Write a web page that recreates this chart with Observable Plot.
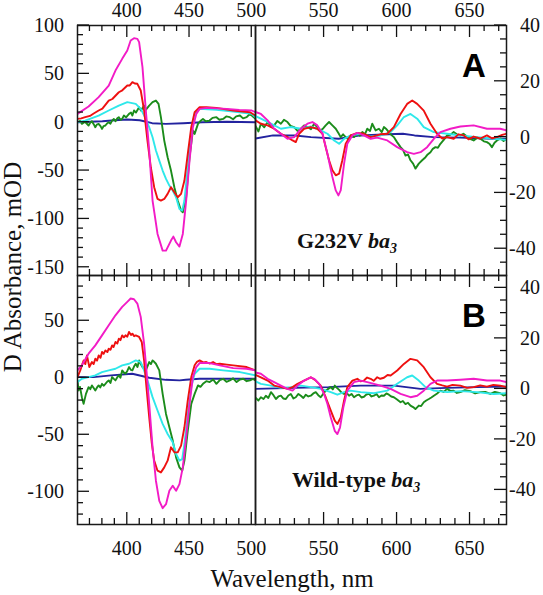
<!DOCTYPE html>
<html><head><meta charset="utf-8">
<script src="https://cdn.jsdelivr.net/npm/d3@7"></script>
<script src="https://cdn.jsdelivr.net/npm/@observablehq/plot@0.6"></script>
<style>
body{margin:0;background:#fff;}
#chart{position:relative;width:543px;height:595px;background:#fff;overflow:hidden;}
#chart svg{position:absolute;left:0;top:0;}
</style></head><body><div id="chart"></div>
<script>
// ---------- DATA: [wavelength nm, ΔA] ----------
// Panel A (G232V ba3), left part (left axis, mOD)
const A_L_magenta = [[360,8.6],[368.9,16.2],[377,25.9],[385.1,37.9],[390.5,53.4],[395.9,65.5],[400,74.1],[402.7,84.5],[405.4,86.9],[408.1,86.2],[409.5,82.8],[412.2,57],[414.9,12],[417.6,-29],[420.3,-81],[424.3,-115.5],[428.4,-132.8],[431.1,-132.8],[435.1,-122.4],[437,-118.3],[439.2,-124.1],[441.9,-128.6],[444.6,-115.5],[447.3,-81],[450,-39.7],[452.7,-5.2],[455.4,8.6],[458.1,13.8],[463.5,14.8],[480,13.8],[490,12.8],[500,12.1],[503,10.3]];
const A_L_red = [[360,3.4],[363,4],[366.2,5.2],[370,6.5],[373,9],[377,12.1],[380,14],[385.1,22.4],[388,24],[393.2,31],[396,33],[400,37.9],[402,38],[404.1,41.4],[406,40],[408.1,39.7],[410.8,32.8],[413.5,12.1],[416.2,-19],[418.9,-46.6],[421.6,-67.2],[424.3,-79.3],[427,-81],[429.7,-79.3],[432.4,-74.1],[435.1,-67.2],[437.8,-72.4],[440.5,-77.6],[443.2,-74.1],[445.9,-60.3],[448.6,-32.8],[451.4,-5.2],[454.1,10.3],[458.1,15.5],[463.5,15.5],[471.6,14.8],[485.1,12.1],[498.6,10.3],[503,6.9]];
const A_L_cyan = [[360,0],[366.2,1.7],[377,6.9],[385.1,12.1],[393.2,17.2],[400,20.7],[406.8,19],[410.8,13.8],[414.9,3.4],[417.6,-5.2],[420.3,-15.5],[423,-29.3],[425.7,-39.7],[428.4,-50],[431.1,-58.6],[433.8,-65.5],[436.5,-70.7],[439.2,-77.6],[441.9,-89.7],[444.1,-91.4],[445.9,-81],[448.6,-46.6],[451.4,-8.6],[454.1,8.6],[458.1,13.8],[471.6,12.8],[485.1,11],[500,8.6],[503,5.2]];
const A_L_green = [[360,0],[362,1.5],[363.5,-1.7],[366,0.5],[368.9,-3.4],[370,-1],[371.6,1],[373,-2],[374.3,-5.2],[375.5,-2.5],[377,-1.7],[378.5,-4],[379.7,-6.9],[381,-4],[382.4,-3.4],[384,-1],[385.1,0],[386.5,-1.5],[387.8,1.7],[389.2,3.4],[390.5,1],[392,4],[393.2,5.2],[394.5,2.5],[395.9,3.4],[397.3,6.9],[399,5],[401.4,8.6],[403,10],[404.1,6.9],[405.4,12.1],[407,10],[409.5,15.5],[411,12],[413.5,17.2],[415,13],[417.6,17.2],[420.3,20.7],[423,22.4],[425.1,19],[427,5.2],[429.7,-19],[432.4,-36.2],[435.1,-50],[437.8,-67.2],[440.5,-81],[443.2,-91.4],[444.6,-93.1],[447.3,-77.6],[450,-36.2],[452.7,-8.6],[454.1,-12.1],[456.8,-1.7],[458.5,1],[460.8,3.4],[463,1],[466,1.7],[468.5,4.5],[471.6,5.2],[474,2.5],[477,3.4],[479.5,6],[482.4,5.2],[485,3],[487.5,6],[490.5,6.9],[493,4],[495.9,5.2],[498,8],[500,7],[503,3.4]];
const A_L_blue = [[360,0],[370,0.5],[380,1],[390,2],[400,2.8],[410,2],[420,-1],[431,-1.7],[445,-1],[460,0],[480,0.5],[503,0]];
// Panel A, right part (right axis, mOD)
const A_R_magenta = [[503,9],[506.7,8.3],[511.3,6],[515.8,3],[520.4,1.2],[524.9,-0.6],[529.5,0],[534.1,3],[538.6,4.8],[542,5.4],[545.4,4.2],[548.9,1.2],[552.3,-6],[555.7,-14.3],[558,-19.1],[559.8,-20.9],[561.4,-19.1],[563.7,-9.5],[565.9,-2.4],[569.4,0.6],[572.8,1.5],[577.3,0.6],[581.9,-0.6],[586.4,-0.2],[593.3,-1.2],[600.1,-3.6],[606.9,-5.4],[611.5,-6],[616.1,-5.4],[620.6,-3.6],[625.2,-0.6],[629.7,1.8],[636.6,3],[643.4,3.8],[652.5,4.2],[661.6,3],[670.7,3],[675,2.4]];
const A_R_red = [[503,6],[506.7,4.8],[511.3,4.2],[515.8,3],[520.4,1.2],[524.9,0],[528.4,-1.2],[530.6,-1.8],[532.9,1.2],[536.3,3],[540.9,3.6],[545.4,3],[548.9,1.2],[551.1,-3.6],[553.4,-8.3],[555.7,-11.9],[558,-13.7],[560.3,-13.1],[562.5,-8.3],[564.8,-2.4],[568.2,0.6],[572.8,1.5],[577.3,1.2],[581.9,0],[588.7,1],[593.3,1.2],[597.8,3.6],[602.4,8.3],[606.9,11.9],[610.4,13.1],[613.8,11.9],[618.3,9.5],[622.9,4.8],[627.4,1.2],[631,-0.5],[634.3,0],[638.8,-0.6],[642,1],[645.7,0.6],[649,-0.8],[652.5,0.2],[657,-0.5],[661.6,0.6],[665,-0.4],[668.5,0],[672,0.8],[675,1.2]];
const A_R_cyan = [[503,7.5],[506.7,6.6],[513.6,4.8],[520.4,3],[527.2,3.6],[534.1,3],[540.9,3.8],[547.7,2.4],[552.3,1.2],[556.9,-1.2],[560.3,-2.4],[563.7,-0.6],[568.2,0.6],[575.1,1.2],[581.9,0.2],[588.7,0.6],[595.6,1.8],[600.1,4.2],[604.7,7.2],[609.2,8.3],[613.8,6.6],[618.3,3.6],[625.2,1.8],[634.3,1.2],[643.4,0.6],[654.8,0],[666.2,-0.6],[675,-1]];
const A_R_green = [[503,4],[505,2],[506.7,4.8],[509,3.5],[511.3,5.4],[513.5,3.8],[515.8,4.2],[518,5.8],[520.4,4.8],[522.5,6.2],[524.9,5.4],[527,4],[529.5,3.6],[531.8,2.2],[534.1,3],[536.3,4.2],[538.6,3.6],[541,2.8],[543.2,4.8],[545.4,3.5],[547.7,2.4],[549.5,3.2],[551.1,4.2],[553.4,5.4],[555.7,4.2],[558,3],[559.8,1.5],[561.4,0],[563,1],[564.8,0],[566.5,-0.8],[568.2,0.6],[570.5,0],[572.8,1.2],[574.5,0.5],[576.2,1.8],[578,1],[579.6,3],[581.5,2.2],[583,4.8],[585.3,2.4],[587.6,3],[589.5,1.8],[591,3.6],[592.8,2.8],[594.4,1.8],[596,0.8],[597.8,0],[600,-1.8],[602.4,-3.6],[604,-4.5],[605.8,-6.6],[607.5,-6.2],[609.2,-8.3],[611,-9.5],[612.6,-11.3],[614.9,-9.5],[617.2,-8.3],[619.5,-7.2],[621,-6.2],[622.9,-5.4],[624.5,-4.2],[626.3,-3.6],[628,-3.8],[629.7,-2.4],[632,-1],[634.3,0.6],[636.5,0.8],[638.8,1.8],[641,1],[643.4,0.6],[645.5,1.2],[647.9,0.2],[650,-0.6],[652.5,-1.2],[655,-0.2],[657.1,-0.6],[659.5,-1.5],[661.6,-1.8],[663.5,-2.5],[665,-3.6],[666.8,-2],[668.5,-1.2],[671,-0.5],[673,-1.4],[675,-0.6]];
const A_R_blue = [[503,-0.5],[515,0.6],[530,0.6],[541,0],[560,-0.6],[575,0.6],[594,1],[604,1.2],[612,0.6],[625,0],[643,-0.2],[666,-0.6],[675,-0.6]];
// Panel B (Wild-type ba3), left part
const B_L_magenta = [[360,6.5],[363.5,10.9],[368.9,21.1],[374.3,28.4],[379.7,37.2],[385.1,46],[390.5,54.8],[395.9,62.2],[400,66.6],[402.7,69.5],[405.4,68.9],[408.1,65.1],[410.8,53.4],[413.5,29.9],[415.4,6.5],[417.6,-22.9],[420.3,-61],[423,-90.3],[425.7,-107.9],[428.4,-114.4],[431.1,-110.9],[433.8,-99.1],[436.5,-94.7],[439.2,-99.1],[441.9,-93.3],[444.6,-78.6],[447.3,-52.2],[450,-22.9],[452.7,0.6],[455.4,9.4],[458.1,12.9],[466.2,12.9],[474.3,10.9],[485.1,8.5],[495.9,7.9],[503,6.5]];
const B_L_red = [[360,0.6],[362.2,6.5],[364.9,15.2],[366.3,12],[367.6,19.6],[369.5,9.4],[371.6,13.8],[373,12],[374.3,16.7],[375.7,15],[377,19.6],[378.5,17.5],[379.7,22.6],[381,21],[382.4,24],[384,22.5],[385.1,25.5],[386.5,24.5],[387.8,28.4],[389,27],[390.5,31.4],[392,30],[393.2,34.3],[394.5,33],[395.9,37.2],[397.3,35.5],[398.6,37.2],[400,36],[401.4,40.2],[403,37.5],[404.1,38.7],[405.5,36.5],[406.8,37.2],[409.5,35.8],[411.6,31.4],[413.5,15.2],[415.4,-8.2],[417.6,-34.6],[419.7,-57.6],[421.6,-72.7],[424.3,-81.5],[427,-83],[429.7,-78.6],[432.4,-72.7],[435.1,-61],[437.8,-65.4],[440.5,-65.4],[443.2,-59.5],[445.9,-43.4],[448.6,-19.9],[451.4,0.6],[454.1,10.9],[456,14],[458.1,15.2],[461,13.5],[463.5,13.8],[466,12.5],[468.9,13.8],[471.5,12],[474.3,12.3],[480,11.5],[485.1,10.9],[495.9,9.4],[503,6.5]];
const B_L_cyan = [[360,-3.8],[363.5,-0.9],[368.9,0.6],[374.3,2.1],[379.7,5],[385.1,6.5],[390.5,7.9],[395.9,10.9],[401.4,12.3],[406.8,15.2],[410.8,13.8],[413.5,6.5],[416.2,-2.3],[420.3,-17],[424.3,-28.7],[428.4,-40.5],[432.4,-49.3],[436.5,-56.6],[439.2,-66.9],[441.9,-72.7],[444.1,-71.3],[445.9,-58.1],[448.6,-31.7],[451.4,-8.2],[454.1,3.5],[458.1,7.9],[466.2,7.9],[477,6.5],[490.5,5],[503,2.1]];
const B_L_green = [[360,-2.3],[360.8,-11.1],[362,-8],[363.5,-17],[364.9,-22.9],[366.8,-14.1],[368.9,-8.2],[370.3,-10],[371.6,-6.7],[373,-9],[374.3,-11.1],[375.7,-8.5],[377,-6.7],[378.3,-8.5],[379.7,-5.3],[381,-7],[382.4,-5.3],[383.8,-3.5],[385.1,-2.3],[386.5,-4.5],[387.8,0.6],[389.2,-1],[390.5,-2.3],[392,0.5],[393.2,2.1],[394.5,0],[395.9,6.5],[397.3,4.5],[398.6,3.5],[400,6],[401.4,9.4],[402.8,7],[404.1,6.5],[405.5,10],[406.8,12.3],[408.2,9.5],[409.5,15.2],[410.8,12],[412.2,9.4],[413.5,8],[414.9,6.5],[416.2,10],[417.6,13.8],[419,12],[420.3,15.2],[421.6,14],[423,12.3],[425.7,6.5],[428.4,-14.1],[431.1,-31.7],[433.8,-43.4],[436.5,-55.1],[439.2,-69.8],[441.9,-78.6],[444.1,-81.5],[445.9,-72.7],[448.6,-46.3],[451.4,-22.9],[454.1,-14.1],[456.8,-6.7],[458.8,-8],[460.8,-5.3],[463.5,-3],[466.2,-3.8],[469,-1.5],[471.6,-5.3],[474.3,-2],[477,-0.9],[479.7,-3.5],[482.4,-2.3],[485,-0.5],[487.8,-3.8],[490.5,-1.5],[493.2,-0.9],[495.9,-3],[498.6,-2.3],[501,-1],[503,-2.3]];
const B_L_blue = [[360,0.6],[373,0.6],[387,2.1],[404,3.5],[410,2],[417.6,0],[431,-1.8],[442,-2.3],[447,-1.8],[458,-0.9],[485,-0.9],[503,-0.9]];
// Panel B, right part
const B_R_magenta = [[503,6.5],[506.7,6],[511.3,4],[515.8,2.7],[520.4,1.3],[524.9,0],[528.4,-0.7],[531.8,1.3],[536.3,3.3],[540.9,4.6],[543.2,4],[546.6,2],[550,-2],[552.3,-6],[554.6,-11.3],[557.3,-16.6],[559.1,-17.9],[560.9,-15.3],[563.2,-7.3],[565.9,-0.7],[570.5,2.7],[575.1,3.3],[579.6,2.7],[584.2,2],[588.7,1.3],[595.6,0],[602.4,-2],[609.2,-3.3],[613.8,-2.7],[618.3,-0.7],[622.9,2],[627.4,3.3],[634.3,3.3],[643.4,3.6],[652.5,4],[661.6,3.3],[670.7,3.3],[675,2.7]];
const B_R_red = [[503,5.5],[506.7,4.6],[511.3,3.3],[515.8,1.3],[520.4,0.7],[524.9,0],[528.4,0.7],[531.8,2],[536.3,3.3],[540.9,4.6],[544.3,3.3],[547.7,1.3],[551.1,-3.3],[554.6,-8.6],[557.3,-12.6],[559.1,-13.9],[561.4,-11.3],[563.7,-4.6],[565.9,0.7],[569.4,3.3],[572.8,4],[575,3],[577.3,3.3],[579.5,4.5],[581.9,4],[584,3.2],[586.4,4.6],[588.5,4],[591,4.4],[593.5,5.5],[595.6,5.3],[600.1,7.3],[604.7,9.9],[609.2,11.9],[611.5,11.6],[613.8,11.3],[618.3,8.6],[622.9,4.6],[627.4,2],[631,1.4],[634.3,0.9],[638,1.6],[643.4,1.3],[648,0.4],[652.5,0.7],[657,1.4],[661.6,0.9],[666,1.6],[670.7,1.3],[675,0.7]];
const B_R_cyan = [[503,3],[506.7,2],[513.6,1.3],[520.4,0.4],[527.2,0.7],[534.1,1.3],[540.9,0.7],[547.7,0],[554.6,-1.3],[559.1,-2.3],[563.7,-1.3],[568.2,-0.7],[575.1,-1.3],[584.2,-1.7],[593.3,-0.7],[600.1,2],[606.9,4.6],[610.4,5.3],[614.9,3.3],[619.5,0.7],[625.2,-0.7],[634.3,-1.3],[643.4,-0.9],[654.8,-1.3],[666.2,-2],[675,-1.7]];
const B_R_green = [[503,-3.5],[505,-4.6],[506.7,-3.3],[508.5,-4],[510.1,-2.7],[511.8,-3.6],[513.6,-1.3],[515.3,-2.5],[517,-4],[518.7,-3],[520.4,-2.7],[522,-3.8],[523.8,-4],[525.5,-2.6],[527.2,-2],[529,-3.8],[530.6,-3.3],[532.4,-2],[534.1,-2.7],[535.8,-3.6],[537.5,-2.3],[539.2,-3],[540.9,-2.7],[542.6,-1.8],[544.3,-1.3],[546,-2.5],[547.7,-3.3],[549.4,-2],[551.1,-0.7],[552.8,0],[554.6,0.7],[556,-0.2],[557.3,1.3],[558.8,0.4],[560.3,-0.4],[562,-1.5],[563.7,-2],[565.4,-1.6],[567.1,-2.7],[568.8,-2],[570.5,-3.3],[572.2,-2.6],[573.9,-2.3],[575.6,-3.4],[577.3,-3.1],[579,-2.2],[580.8,-2],[582.5,-3],[584.2,-2.7],[585.9,-2],[587.6,-3.3],[589.3,-2.6],[591,-2.7],[592.7,-1.8],[594.4,-2.3],[596,-3],[597.8,-3.3],[600,-4.2],[602.4,-5.3],[604,-4.8],[605.8,-6],[607.5,-5.5],[609.2,-6.6],[611,-7.2],[612.6,-8],[614.9,-6.6],[616.5,-6.8],[618.3,-5.3],[620,-4.6],[621.8,-4],[623.5,-3.4],[625.2,-2.7],[627.5,-1.8],[629.7,-0.7],[632,-1.2],[634.3,0],[636.5,-0.8],[638.8,-0.7],[641,-1.6],[643.4,-1.3],[646.5,-0.5],[650.2,-0.9],[653.5,-1.8],[657.1,-1.3],[660.5,-1.2],[663.9,-2],[667,-1.2],[670.7,-1.7],[673,-2.6],[675,-2.3]];
const B_R_blue = [[503,0],[530,0.4],[553,0.7],[575,1.3],[598,1.3],[616,0],[634,0.4],[655,0.7],[675,0.9]];

// ---------- scales & ticks ----------
const xLeftDomain = [360, 503];
const xRightDomain = [503, 675];
const yDomainA_left = [-158.5, 100];
const yDomainA_right = [-49.6, 40];
const yDomainB_left = [-128.7, 89.7];
const yDomainB_right = [-53.7, 44.9];
const xMajorLeft = [400, 450, 500];
const xMinorLeft = [370, 380, 390, 410, 420, 430, 440, 460, 470, 480, 490];
const xMajorRight = [550, 600, 650];
const xMinorRight = [510, 520, 530, 540, 560, 570, 580, 590, 610, 620, 630, 640, 660, 670];
const yMajorA_left = [-150, -100, -50, 0, 50, 100];
const yMinorA_left = [-140,-130,-120,-110,-90,-80,-70,-60,-40,-30,-20,-10,10,20,30,40,60,70,80,90];
const yMajorB_left = [-100, -50, 0, 50];
const yMinorB_left = [-120,-110,-90,-80,-70,-60,-40,-30,-20,-10,10,20,30,40,60,70,80];
const yMajorRight = [-40, -20, 0, 20, 40];
const yMinorA_right = [-45,-35,-30,-25,-15,-10,-5,5,10,15,25,30,35];
const yMinorB_right = [-50,-45,-35,-30,-25,-15,-10,-5,5,10,15,25,30,35];

const seriesOrder = ["blue", "green", "cyan", "red", "magenta"];
const seriesColors = {magenta: "#f21bc6", red: "#ee1010", cyan: "#2ee8ea", green: "#1b8c1b", blue: "#23239f"};

const W = 543, H = 595;
const SERIF = "Liberation Serif, Times New Roman, serif";
const SANS = "Liberation Sans, Arial, sans-serif";
const chart = document.getElementById("chart");
const ov = d3.select(chart).append("svg").attr("width", W).attr("height", H)
  .attr("font-family", SERIF).style("position", "absolute").style("z-index", 5);
const axisG = ov.append("g").attr("stroke", "#111").attr("stroke-width", 1.3);
const labelG = ov.append("g").attr("fill", "#111").attr("font-size", 20).attr("font-family", SERIF);

function sub(o) {
  const marks = [];
  for (const k of seriesOrder) {
    marks.push(Plot.line(o.series[k], {x: d => d[0], y: d => d[1], stroke: seriesColors[k], strokeWidth: 1.9, clip: true}));
  }
  marks.push(Plot.frame({stroke: "#1a1a1a", strokeWidth: 1.5}));
  const svg = Plot.plot({
    width: W, height: H,
    marginLeft: o.x0, marginRight: W - o.x1, marginTop: o.y0, marginBottom: H - o.y1,
    x: {type: "linear", domain: o.xDomain, axis: null},
    y: {type: "linear", domain: o.yDomain, axis: null},
    style: {background: "transparent", overflow: "visible"},
    marks
  });
  chart.insertBefore(svg, ov.node());
  // ticks and labels placed with this plot's own scales
  const sx = svg.scale("x"), sy = svg.scale("y");
  const X = v => sx.apply(v), Y = v => sy.apply(v);
  const top = o.y0, bot = o.y1, left = o.x0, right = o.x1;
  for (const [ticks, len] of [[o.xMajor, 12], [o.xMinor, 6]]) {
    for (const t of ticks) {
      axisG.append("line").attr("x1", X(t)).attr("x2", X(t)).attr("y1", top).attr("y2", top + len);
      axisG.append("line").attr("x1", X(t)).attr("x2", X(t)).attr("y1", bot).attr("y2", bot - len);
    }
  }
  for (const [ticks, len] of [[o.yMajor, 12], [o.yMinor, 6]]) {
    for (const t of ticks) {
      if (o.ySide === "left") axisG.append("line").attr("x1", left).attr("x2", left + len).attr("y1", Y(t)).attr("y2", Y(t));
      else axisG.append("line").attr("x1", right).attr("x2", right - len).attr("y1", Y(t)).attr("y2", Y(t));
    }
  }
  for (const t of o.xMajor) {
    labelG.append("text").attr("x", X(t)).attr("y", o.xLabelSide === "top" ? top - 8 : bot + 31)
      .attr("text-anchor", "middle").text(String(t));
  }
  for (const t of o.yMajor) {
    if (o.ySide === "left") {
      labelG.append("text").attr("x", left - 13).attr("y", Y(t) + 7).attr("text-anchor", "end").text(String(t));
    } else {
      labelG.append("text").attr("x", right + (t < 0 ? 3 : 14)).attr("y", Y(t) + 7).attr("text-anchor", "start").text(String(t));
    }
  }
}

const X0 = 77, XD = 255, X1 = 506, YT = 25, YM = 275, YB = 524;
const pick = (m, r, c, g, b) => ({magenta: m, red: r, cyan: c, green: g, blue: b});

sub({x0: X0, x1: XD, y0: YT, y1: YM, xDomain: xLeftDomain, yDomain: yDomainA_left,
  series: pick(A_L_magenta, A_L_red, A_L_cyan, A_L_green, A_L_blue),
  xMajor: xMajorLeft, xMinor: xMinorLeft, xLabelSide: "top", yMajor: yMajorA_left, yMinor: yMinorA_left, ySide: "left"});
sub({x0: XD, x1: X1, y0: YT, y1: YM, xDomain: xRightDomain, yDomain: yDomainA_right,
  series: pick(A_R_magenta, A_R_red, A_R_cyan, A_R_green, A_R_blue),
  xMajor: xMajorRight, xMinor: xMinorRight, xLabelSide: "top", yMajor: yMajorRight, yMinor: yMinorA_right, ySide: "right"});
sub({x0: X0, x1: XD, y0: YM, y1: YB, xDomain: xLeftDomain, yDomain: yDomainB_left,
  series: pick(B_L_magenta, B_L_red, B_L_cyan, B_L_green, B_L_blue),
  xMajor: xMajorLeft, xMinor: xMinorLeft, xLabelSide: "bottom", yMajor: yMajorB_left, yMinor: yMinorB_left, ySide: "left"});
sub({x0: XD, x1: X1, y0: YM, y1: YB, xDomain: xRightDomain, yDomain: yDomainB_right,
  series: pick(B_R_magenta, B_R_red, B_R_cyan, B_R_green, B_R_blue),
  xMajor: xMajorRight, xMinor: xMinorRight, xLabelSide: "bottom", yMajor: yMajorRight, yMinor: yMinorB_right, ySide: "right"});

// ---------- annotations ----------
for (const [letter, y] of [["A", 77], ["B", 327]]) {
  ov.append("text").attr("x", 474).attr("y", y).attr("text-anchor", "middle")
    .attr("font-family", SANS).attr("font-weight", "bold").attr("font-size", 33).text(letter);
}
function strain(x, y, name) {
  const t = ov.append("text").attr("x", x).attr("y", y).attr("font-family", SERIF).attr("font-weight", "bold").attr("font-size", 22).attr("fill", "#111");
  t.append("tspan").text(name + " ");
  t.append("tspan").attr("font-style", "italic").text("ba");
  t.append("tspan").attr("font-style", "italic").attr("font-size", 14).attr("dy", 5).text("3");
}
strain(297, 248, "G232V");
strain(292, 487, "Wild-type");
ov.append("text").attr("transform", "translate(21,267) rotate(-90)").attr("text-anchor", "middle")
  .attr("font-family", SERIF).attr("font-size", 25).attr("fill", "#111").text("D Absorbance, mOD");
ov.append("text").attr("x", 292).attr("y", 587).attr("text-anchor", "middle")
  .attr("font-family", SERIF).attr("font-size", 25).attr("fill", "#111").text("Wavelength, nm");
</script></body></html>
